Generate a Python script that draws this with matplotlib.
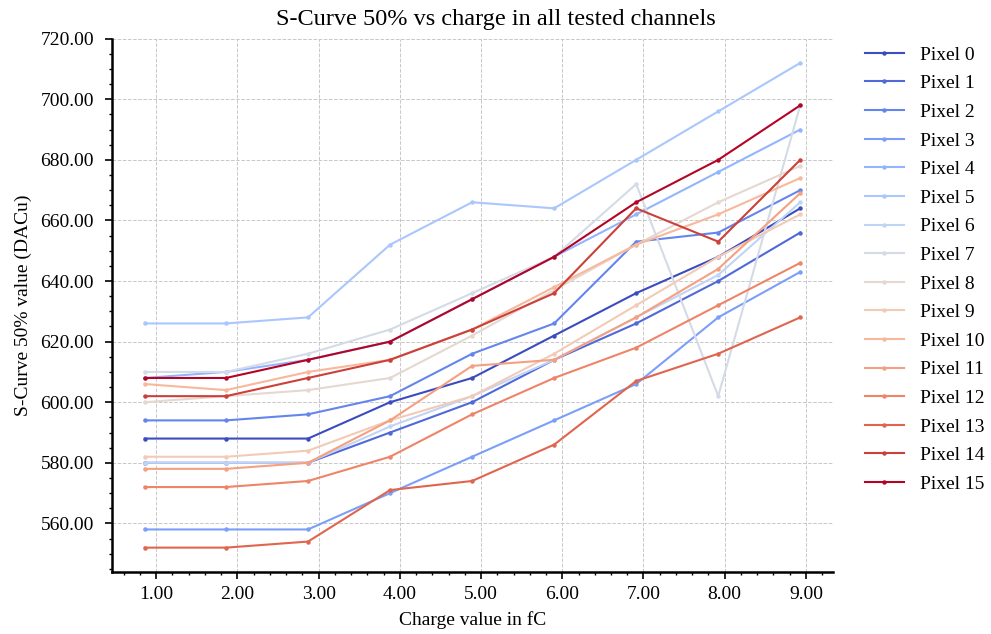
import numpy as np
import matplotlib
matplotlib.use("Agg")
import matplotlib.pyplot as plt
from matplotlib.ticker import AutoMinorLocator, FormatStrFormatter

plt.rcParams['font.family'] = ['Liberation Serif', 'DejaVu Serif']

charge = [0.86, 1.86, 2.87, 3.88, 4.89, 5.90, 6.91, 7.92, 8.93]

pixel_labels = [f"Pixel {i}" for i in range(16)]

p0 = [588, 588, 588, 600, 608, 622, 636, 648, 664]
p1 = [580, 580, 580, 590, 600, 614, 626, 640, 656]
p2 = [594, 594, 596, 602, 616, 626, 653, 656, 670]
p3 = [558, 558, 558, 570, 582, 594, 606, 628, 643]
p4 = [608, 610, 614, 620, 634, 648, 662, 676, 690]
p5 = [626, 626, 628, 652, 666, 664, 680, 696, 712]
p6 = [580, 580, 580, 592, 602, 614, 628, 642, 666]
p7 = [610, 610, 616, 624, 636, 648, 672, 602, 698]
p8 = [600, 602, 604, 608, 622, 637, 652, 666, 678]
p9 = [582, 582, 584, 594, 602, 616, 632, 648, 662]
p10 = [606, 604, 610, 614, 624, 638, 652, 662, 674]
p11 = [578, 578, 580, 594, 612, 614, 628, 644, 669]
p12 = [572, 572, 574, 582, 596, 608, 618, 632, 646]
p13 = [552, 552, 554, 571, 574, 586, 607, 616, 628]
p14 = [602, 602, 608, 614, 624, 636, 664, 653, 680]
p15 = [608, 608, 614, 620, 634, 648, 666, 680, 698]

series = [p0, p1, p2, p3, p4, p5, p6, p7, p8, p9, p10, p11, p12, p13, p14, p15]

colors = plt.cm.coolwarm(np.linspace(0, 1, len(series)))

fig = plt.figure(figsize=(9.91, 6.34), dpi=100)
ax = fig.add_axes([0.113, 0.098, 0.7276, 0.841])

for vals, lab, c in zip(series, pixel_labels, colors):
    ax.plot(charge, vals, color=c, marker='o', markersize=2.2, linewidth=1.5, label=lab)

fig.suptitle("S-Curve 50% vs charge in all tested channels", fontsize=17.5,
             x=0.5, y=1 - 19 / 634, va='center')
ax.set_xlabel("Charge value in fC", fontsize=14, labelpad=6)
ax.set_ylabel("S-Curve 50% value (DACu)", fontsize=14, labelpad=6)

ax.xaxis.set_major_formatter(FormatStrFormatter('%.2f'))
ax.yaxis.set_major_formatter(FormatStrFormatter('%.2f'))
ax.xaxis.set_minor_locator(AutoMinorLocator())
ax.yaxis.set_minor_locator(AutoMinorLocator())
ax.tick_params(axis='both', which='major', labelsize=14, length=5, width=1.2, direction='out')
ax.tick_params(axis='both', which='minor', length=2.5, width=1.0, direction='out')
ax.tick_params(axis='y', which='major', pad=8)
ax.tick_params(axis='x', which='major', pad=5)

ax.grid(True, which='major', linestyle='--', color='#c8c8c8', linewidth=0.7)
ax.spines['top'].set_visible(False)
ax.spines['right'].set_visible(False)
ax.spines['left'].set_linewidth(1.8)
ax.spines['bottom'].set_linewidth(1.8)

ax.legend(loc='upper left', bbox_to_anchor=(1.02, 1.019), frameon=False, fontsize=14,
          handlelength=2.0, handletextpad=0.85, labelspacing=0.566)

fig.savefig("out.png", dpi=100)
